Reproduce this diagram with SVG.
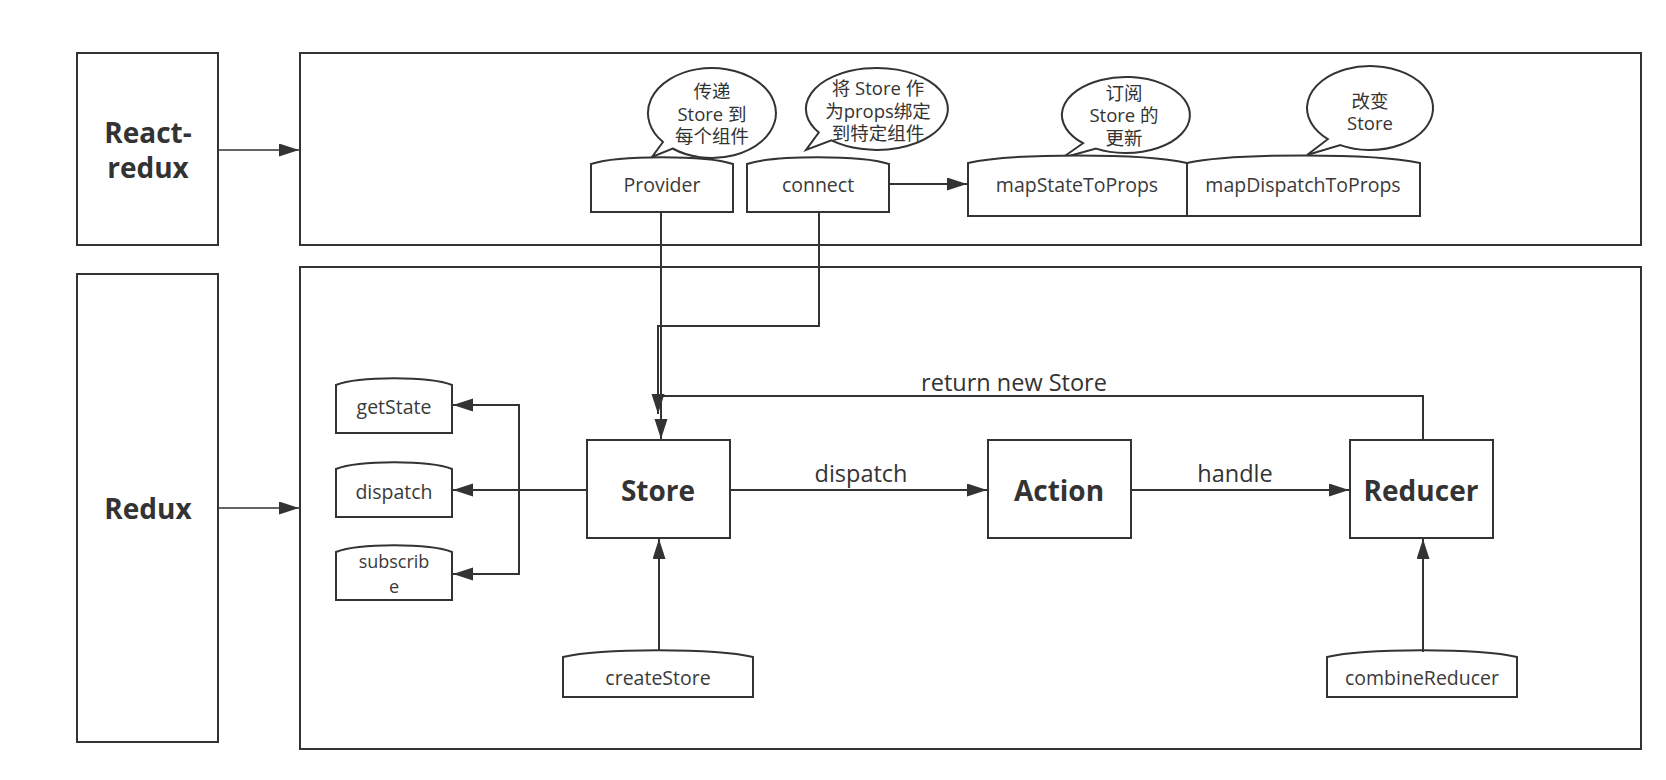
<svg xmlns="http://www.w3.org/2000/svg" width="1666" height="780" viewBox="0 0 1666 780">
<defs>
<marker id="arr" markerUnits="userSpaceOnUse" markerWidth="22" markerHeight="14" refX="20" refY="6.5" orient="auto">
<path d="M0,0 L20,6.5 L0,13 Z" fill="#333"/>
</marker>
<style>
.box{fill:#fff;stroke:#333;stroke-width:2}
.ln{fill:none;stroke:#333;stroke-width:2}
.t{font-family:"Open Sans","Noto Sans CJK SC",sans-serif;fill:#333;text-anchor:middle;dominant-baseline:central}
.n{font-size:19.5px;fill:#3a3a3a}
.s{font-size:18px}
.c{font-size:18.5px}
.b{font-size:28px;font-weight:bold}
.lb{font-size:23.5px}
</style>
</defs>
<rect width="1666" height="780" fill="#fff"/>

<g id="react-redux-label">
<rect class="box" x="77" y="53" width="141" height="192"/>
<text class="t b" x="148" y="132">React-</text>
<text class="t b" x="148" y="167">redux</text>
</g>
<g id="redux-label">
<rect class="box" x="77" y="274" width="141" height="468"/>
<text class="t b" x="148" y="508">Redux</text>
</g>
<g id="react-redux-container">
<rect class="box" x="300" y="53" width="1341" height="192"/>
</g>
<g id="redux-container">
<rect class="box" x="300" y="267" width="1341" height="482"/>
</g>

<g id="provider-callout">
<path class="box" d="M663,142 A64,45 0 1 1 672.6,148.5 L652,157 Z"/>
<text class="t c" x="712" y="90">传递</text>
<text class="t c" x="712" y="113">Store 到</text>
<text class="t c" x="712" y="135">每个组件</text>
</g>
<g id="connect-callout">
<path class="box" d="M818.8,132.5 A71,41 0 1 1 831.4,140.4 L806,150 Z"/>
<text class="t c" x="878" y="87">将 Store 作</text>
<text class="t c" x="878" y="110">为props绑定</text>
<text class="t c" x="878" y="132">到特定组件</text>
</g>
<g id="mapstate-callout">
<path class="box" d="M1083,143.2 A64,38 0 1 1 1096,148.6 L1062,158 Z"/>
<text class="t c" x="1124" y="92">订阅</text>
<text class="t c" x="1124" y="114">Store 的</text>
<text class="t c" x="1124" y="137">更新</text>
</g>
<g id="mapdispatch-callout">
<path class="box" d="M1327.8,139.2 A63,42 0 1 1 1340.4,145.1 L1307,155 Z"/>
<text class="t c" x="1370" y="100">改变</text>
<text class="t c" x="1370" y="122">Store</text>
</g>

<g id="provider">
<path class="box" d="M591,212 L591,164 C619,155 705,155 733,164 L733,212 Z"/>
<text class="t n" x="662" y="184">Provider</text>
</g>
<g id="connect">
<path class="box" d="M747,212 L747,164 C775,155 861,155 889,164 L889,212 Z"/>
<text class="t n" x="818" y="184">connect</text>
</g>
<g id="mapStateToProps">
<path class="box" d="M968,216 L968,163 C1012,153 1143,153 1187,163 L1187,216 Z"/>
<text class="t n" x="1077" y="184">mapStateToProps</text>
</g>
<g id="mapDispatchToProps">
<path class="box" d="M1187,216 L1187,163 C1234,153 1373,153 1420,163 L1420,216 Z"/>
<text class="t n" x="1303" y="184">mapDispatchToProps</text>
</g>

<g id="getState">
<path class="box" d="M336,433 L336,385 C359,376 429,376 452,385 L452,433 Z"/>
<text class="t n" x="394" y="406">getState</text>
</g>
<g id="dispatch">
<path class="box" d="M336,517 L336,469 C359,460 429,460 452,469 L452,517 Z"/>
<text class="t n" x="394" y="491">dispatch</text>
</g>
<g id="subscribe">
<path class="box" d="M336,600 L336,552 C359,543 429,543 452,552 L452,600 Z"/>
<text class="t n s" x="394" y="561">subscrib</text>
<text class="t n s" x="394" y="586">e</text>
</g>
<g id="store">
<rect class="box" x="587" y="440" width="143" height="98"/>
<text class="t b" x="658" y="490">Store</text>
</g>
<g id="action">
<rect class="box" x="988" y="440" width="143" height="98"/>
<text class="t b" x="1059" y="490">Action</text>
</g>
<g id="reducer">
<rect class="box" x="1350" y="440" width="143" height="98"/>
<text class="t b" x="1421" y="490">Reducer</text>
</g>
<g id="createStore">
<path class="box" d="M563,697 L563,657 C601,648 715,648 753,657 L753,697 Z"/>
<text class="t n" x="658" y="677">createStore</text>
</g>
<g id="combineReducer">
<path class="box" d="M1327,697 L1327,657 C1365,648 1479,648 1517,657 L1517,697 Z"/>
<text class="t n" x="1422" y="677">combineReducer</text>
</g>

<g id="connectors">
<path class="ln" style="stroke-width:1.6" d="M218,150 L299,150" marker-end="url(#arr)"/>
<path class="ln" style="stroke-width:1.6" d="M218,508 L299,508" marker-end="url(#arr)"/>
<path class="ln" d="M889,184 L967,184" marker-end="url(#arr)"/>
<path class="ln" d="M661,212 L661,439" marker-end="url(#arr)"/>
<path class="ln" d="M819,212 L819,326 L658,326 L658,414" marker-end="url(#arr)"/>
<path class="ln" d="M1423,440 L1423,396 L661,396"/>
<path class="ln" d="M586,490 L453,490" marker-end="url(#arr)"/>
<path class="ln" d="M519,490 L519,405 L453,405" marker-end="url(#arr)"/>
<path class="ln" d="M519,490 L519,574 L453,574" marker-end="url(#arr)"/>
<path class="ln" d="M730,490 L987,490" marker-end="url(#arr)"/>
<path class="ln" d="M1131,490 L1349,490" marker-end="url(#arr)"/>
<path class="ln" d="M659,650 L659,539" marker-end="url(#arr)"/>
<path class="ln" d="M1423,652 L1423,539" marker-end="url(#arr)"/>
<text class="t lb" x="861" y="473">dispatch</text>
<text class="t lb" x="1235" y="473">handle</text>
<text class="t lb" x="1014" y="382">return new Store</text>
</g>
</svg>
